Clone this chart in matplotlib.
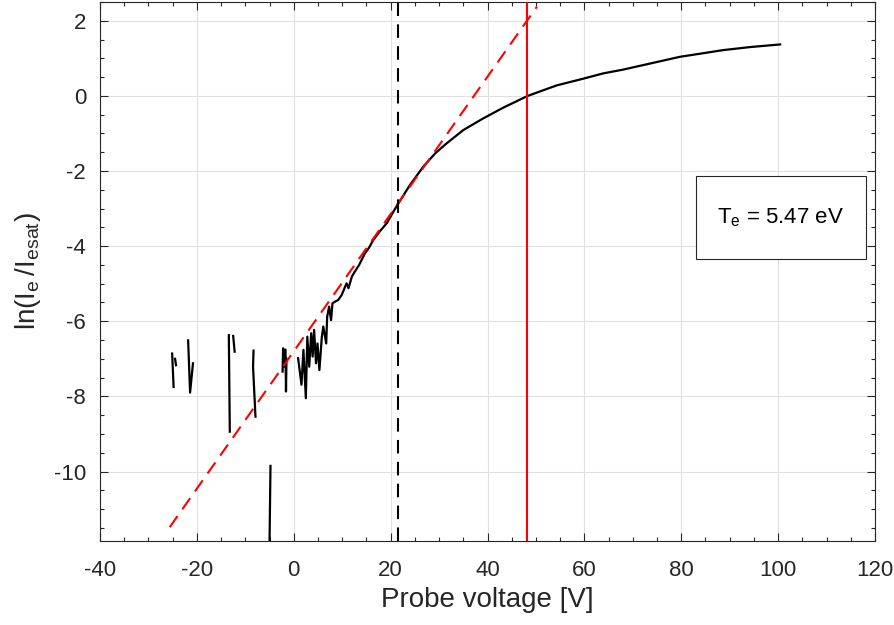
import numpy as np
import matplotlib
matplotlib.use('Agg')
import matplotlib.pyplot as plt
from matplotlib.patches import Rectangle

plt.rcParams['font.family'] = ['Liberation Sans', 'DejaVu Sans']
plt.rcParams['axes.unicode_minus'] = False

# Probe data: voltage [V] and ln(Ie/Iesat); NaN marks gaps (log of negative current)
voltage = [-25.1, -24.8, np.nan, -24.5, -24.3, np.nan,
           -21.8, -21.4, -20.8, np.nan,
           -13.4, -13.2, np.nan, -12.5, -12.2, np.nan,
           -8.3, -8.4, -7.9, np.nan,
           -5.2, -4.8, np.nan,
           -2.3, -2.2, -2.0, np.nan, -1.7, -1.6, -1.5, np.nan,
           0.9, 1.6, 2.0, 2.5, 2.8, 3.2, 3.6, 3.9, 4.2, 4.6, 4.9, 5.3, 5.8, 6.1,
           6.7, 6.9, 7.3, 7.7, 8.0, 8.5, 9.2, 9.9, 10.6, 10.9, 11.3, 12.0, 12.6,
           13.5, 14.7, 15.5, 16.4, 17.8, 19.2, 20.4, 21.6,
           23.95, 26.7, 29.2, 31.5, 35.0, 39.1, 43.3, 48.3, 51.5, 54.3, 59.8,
           63.9, 68.0, 73.5, 79.7, 88.7, 94.2, 100.4]
ln_ratio = [-6.86, -7.75, np.nan, -7.00, -7.17, np.nan,
            -6.51, -7.90, -7.12, np.nan,
            -6.37, -8.94, np.nan, -6.39, -6.81, np.nan,
            -6.78, -7.21, -8.54, np.nan,
            -14.0, -9.85, np.nan,
            -7.34, -6.72, -7.20, np.nan, -6.76, -7.87, -7.00, np.nan,
            -6.98, -7.69, -6.76, -8.05, -6.41, -7.21, -6.32, -6.94, -6.23, -7.12,
            -6.59, -7.30, -6.41, -6.14, -6.59, -5.88, -5.61, -5.97, -5.52, -5.48,
            -5.43, -5.30, -5.08, -4.99, -5.12, -4.81, -4.68,
            -4.50, -4.19, -4.05, -3.84, -3.60, -3.39, -3.12, -2.86,
            -2.38, -1.89, -1.53, -1.27, -0.91, -0.60, -0.31, 0.0, 0.15, 0.28,
            0.46, 0.60, 0.70, 0.86, 1.04, 1.22, 1.30, 1.37]

Te = 5.47            # electron temperature [eV], slope of the fit = 1/Te
V_knee = 37.2        # voltage where the fit line crosses zero
fit_range = [-25.6, 50.2]
V_float_end = 21.5   # upper end of the fit region
V_plasma = 48.2      # plasma potential

fig = plt.figure(figsize=(8.95, 6.25), dpi=100)
ax = fig.add_axes([0.1117, 0.1344, 0.866, 0.8624])

axis_color = '#262626'

fit_v = np.array(fit_range)
fit_y = (fit_v - V_knee) / Te

ax.plot(voltage, ln_ratio, color='black', lw=1.6, zorder=3, solid_joinstyle='round')
ax.plot(fit_v, fit_y, color='red', lw=1.5, dashes=(6.5, 4), zorder=4)
ax.axvline(V_float_end, color='black', lw=1.5, dashes=(6.5, 4), zorder=4)
ax.axvline(V_plasma, color='red', lw=1.5, zorder=4)

ax.set_xlim(-40, 120)
ax.set_ylim(-11.85, 2.5)
ax.set_xticks(np.arange(-40, 121, 20))
ax.set_yticks(np.arange(-10, 3, 2))
ax.set_xticks(np.arange(-40, 121, 5), minor=True)
ax.set_yticks(np.arange(-11.5, 2.6, 0.5), minor=True)
ax.grid(True, which='major', color='#e0e0e0', lw=0.8)
ax.set_axisbelow(True)

ax.tick_params(which='both', direction='in', top=True, right=True,
               colors=axis_color, labelsize=16, width=0.8)
ax.tick_params(which='major', length=6)
ax.tick_params(axis='x', which='major', pad=14)
ax.tick_params(axis='y', which='major', pad=10)
ax.tick_params(which='minor', length=3)
for s in ax.spines.values():
    s.set_color(axis_color)
    s.set_linewidth(0.8)

ax.set_xlabel('Probe voltage [V]', fontsize=20, color=axis_color, labelpad=4)
ax.set_ylabel(r'$\mathregular{ln(I_e\,/I_{esat})}$', fontsize=20, color=axis_color, labelpad=8)

# annotation box with the electron temperature
ax.add_patch(Rectangle((0.7686, 0.523), 0.2194, 0.154, transform=ax.transAxes,
                       facecolor='white', edgecolor=axis_color, lw=0.8, zorder=5))
ax.text(0.878, 0.600, r'$\mathregular{T_e}$ = %.2f eV' % Te, transform=ax.transAxes,
        ha='center', va='center', fontsize=16, color='black', zorder=6)

fig.savefig('out.png', dpi=100)
